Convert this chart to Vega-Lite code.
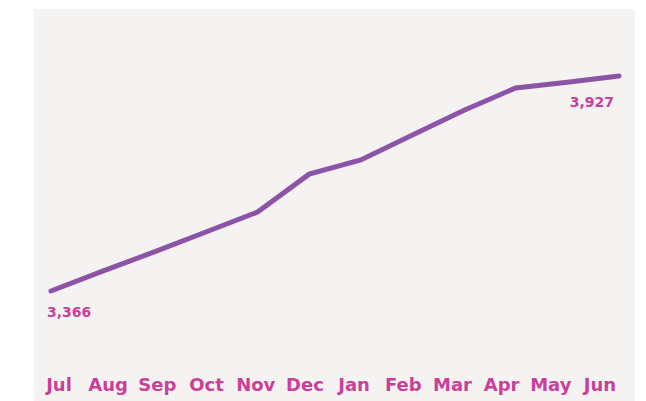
{
  "$schema": "https://vega.github.io/schema/vega-lite/v6.json",
  "width": 601,
  "height": 392,
  "autosize": {"type": "none"},
  "padding": {"left": 34, "top": 9, "right": 11, "bottom": 0},
  "background": "#ffffff",
  "config": {"view": {"fill": "#f4f3f2", "stroke": null}},
  "data": {
    "values": [
      {"month": "Jul", "value": 3366},
      {"month": "Aug", "value": 3418},
      {"month": "Sep", "value": 3468},
      {"month": "Oct", "value": 3520},
      {"month": "Nov", "value": 3572},
      {"month": "Dec", "value": 3671},
      {"month": "Jan", "value": 3708},
      {"month": "Feb", "value": 3773},
      {"month": "Mar", "value": 3838},
      {"month": "Apr", "value": 3896},
      {"month": "May", "value": 3911},
      {"month": "Jun", "value": 3927}
    ]
  },
  "encoding": {
    "y": {"field": "value", "type": "quantitative", "scale": {"domain": [3079, 4102], "nice": false, "zero": false}, "axis": null}
  },
  "layer": [
    {
      "encoding": {
        "x": {"field": "month", "type": "ordinal", "sort": null, "scale": {"type": "point", "range": [17, 585], "padding": 0}, "axis": null}
      },
      "layer": [
        {"mark": {"type": "line", "color": "#8d53a6", "strokeWidth": 5, "strokeCap": "round"}},
        {
          "transform": [{"filter": "datum.month === 'Jul'"}],
          "mark": {"type": "text", "font": "DejaVu Sans", "fontWeight": "bold", "fontSize": 14, "color": "#c9409a", "align": "left", "baseline": "alphabetic", "dx": -4, "dy": 26},
          "encoding": {"text": {"field": "value", "type": "quantitative", "format": ","}}
        },
        {
          "transform": [{"filter": "datum.month === 'Jun'"}],
          "mark": {"type": "text", "font": "DejaVu Sans", "fontWeight": "bold", "fontSize": 14, "color": "#c9409a", "align": "right", "baseline": "alphabetic", "dx": -5, "dy": 31},
          "encoding": {"text": {"field": "value", "type": "quantitative", "format": ","}}
        }
      ]
    },
    {
      "mark": {"type": "text", "font": "DejaVu Sans", "fontWeight": "bold", "fontSize": 18, "color": "#c9409a", "align": "center", "baseline": "alphabetic", "dy": -10},
      "encoding": {
        "x": {"field": "month", "type": "ordinal", "sort": null, "scale": {"type": "point", "range": [25, 566], "padding": 0}, "axis": null},
        "y": {"datum": 3079},
        "text": {"field": "month"}
      }
    }
  ],
  "resolve": {"scale": {"x": "independent"}}
}
